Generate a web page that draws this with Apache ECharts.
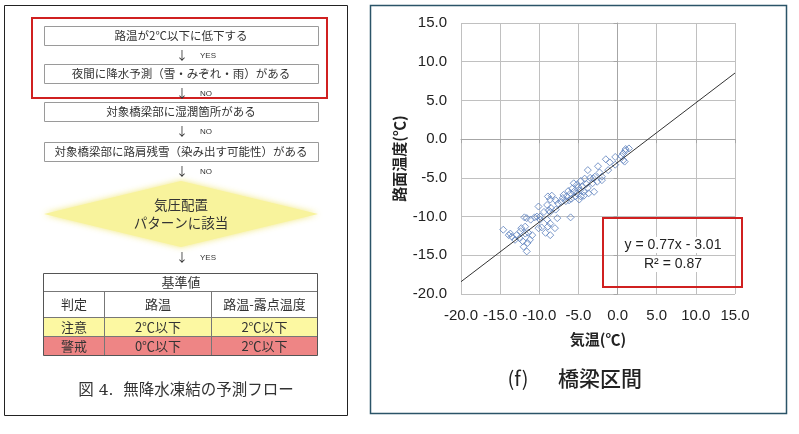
<!DOCTYPE html>
<html>
<head>
<meta charset="utf-8">
<script src="https://cdn.jsdelivr.net/npm/echarts@6/dist/echarts.min.js"></script>
<style>
  html, body { margin: 0; padding: 0; background: #fff; }
  #main { width: 799px; height: 434px; }
</style>
</head>
<body>
<div id="main"></div>
<script>
/* === Data (橋梁区間: 気温 vs 路面温度) === */
const airTemp = [
  1.45, 1.0, 0.7, 1.03, 0.9, 0.73, -0.3, -1.5, -1.0, -0.3,
  0.5, -2.5, -3.8, -1.2, -2.3, -2.9, -2.0, -2.0, -2.6, -3.2,
  -3.1, -3.5, -4.2, -4.7, -5.2, -5.6, -4.0, -4.5, -3.8, -5.0,
  -4.8, -4.3, -3.7, -3.0, -5.2, -5.6, -5.8, -6.3, -6.0, -5.4,
  -4.7, -4.3, -4.9, -5.9, -6.5, -6.9, -7.0, -6.2, -6.6, -7.2,
  -7.6, -7.9, -8.6, -8.4, -8.9, -9.0, -8.5, -7.9, -8.6, -7.7,
  -6.0, -10.1, -8.8, -9.4, -9.9, -10.3, -10.6, -9.9, -9.0, -8.6,
  -8.9, -9.7, -9.2, -8.6, -8.0, -10.1, -11.6, -11.1, -11.9, -11.8,
  -12.3, -11.8, -11.4, -10.9, -11.2, -11.5, -12.0, -11.6, -12.1, -12.5,
  -13.1, -13.5, -13.9, -14.6, -13.7, -12.9, -12.4
];
const roadTemp = [
  -1.2, -1.5, -1.85, -1.28, -2.9, -2.7, -2.3, -2.6, -3.0, -3.3,
  -2.2, -3.5, -4.0, -4.0, -4.3, -4.85, -4.85, -5.3, -5.5, -5.7,
  -5.07, -5.0, -5.1, -5.4, -5.9, -5.7, -5.8, -6.1, -6.3, -6.2,
  -6.6, -6.8, -7.0, -6.8, -7.0, -6.8, -6.4, -6.7, -7.0, -7.4,
  -7.4, -7.3, -7.8, -7.7, -7.4, -7.2, -7.6, -7.9, -8.0, -8.1,
  -8.3, -7.9, -7.8, -7.3, -7.4, -8.5, -8.9, -9.1, -9.4, -10.2,
  -10.1, -8.7, -9.2, -9.4, -10.0, -10.0, -10.1, -10.4, -10.4, -10.9,
  -11.3, -11.4, -12.1, -12.4, -11.5, -11.5, -10.2, -10.4, -10.1, -11.3,
  -11.5, -12.2, -12.1, -12.4, -13.0, -13.4, -13.9, -14.5, -13.2, -12.8,
  -13.0, -12.6, -12.4, -11.7, -12.2, -12.4, -11.9
];
const trendSlope = 0.77;
const trendIntercept = -3.01;
const rSquared = 0.87;
const axisMin = -20, axisMax = 15, axisStep = 5;

/* === Flow chart texts (無降水凍結の予測フロー) === */
const flowSteps = [
  '路温が2℃以下に低下する',
  '夜間に降水予測（雪・みぞれ・雨）がある',
  '対象橋梁部に湿潤箇所がある',
  '対象橋梁部に路肩残雪（染み出す可能性）がある'
];
const flowBranches = ['YES', 'NO', 'NO', 'NO'];
const diamondLines = ['気圧配置', 'パターンに該当'];
const tableTitle = '基準値';
const tableHeader = ['判定', '路温', '路温-露点温度'];
const tableRows = [
  ['注意', '2℃以下', '2℃以下'],
  ['警戒', '0℃以下', '2℃以下']
];

const JP = "'Noto Sans CJK JP', 'Noto Sans', sans-serif";
const LAT = "'Liberation Sans', 'Noto Sans CJK JP', sans-serif";

function txt(x, y, text, size, opt) {
  opt = opt || {};
  return {
    type: 'text', x: x, y: y, z: opt.z || 10,
    style: {
      text: text,
      fill: opt.color || '#333',
      font: (opt.weight || 'normal') + ' ' + size + 'px ' + (opt.family || JP),
      textAlign: opt.align || 'center', align: opt.align || 'center',
      textVerticalAlign: 'middle', verticalAlign: 'middle',
      backgroundColor: opt.bg, padding: opt.bg ? [1, 2] : 0
    }
  };
}
function box(x, y, w, h, fill, stroke, lw, z) {
  return {
    type: 'rect', z: z || 5,
    shape: { x: x, y: y, width: w, height: h },
    style: { fill: fill, stroke: stroke, lineWidth: lw || 1 }
  };
}
function seg(x1, y1, x2, y2, color, z) {
  return {
    type: 'line', z: z || 6,
    shape: { x1: x1, y1: y1, x2: x2, y2: y2 },
    style: { stroke: color, lineWidth: 1 }
  };
}

/* === Left panel graphics === */
function buildFlow() {
  const g = [];
  g.push(box(4.5, 5.5, 343, 410, 'none', '#222', 1));
  const boxTops = [26, 64, 102, 142];
  flowSteps.forEach((s, i) => {
    g.push(box(44.5, boxTops[i] + 0.5, 274, 19, '#fff', '#9a9a9a', 1));
    g.push(txt(181, boxTops[i] + 10, s, 11.5));
    const ay = boxTops[i] + 29;
    g.push(txt(182, ay, '↓', 12));
    g.push(txt(200, ay + 1, flowBranches[i], 8, { align: 'left', family: LAT }));
  });
  // red highlight round first two steps
  g.push(box(32, 18, 295, 80, 'none', '#d02020', 2, 8));

  // diamond
  g.push({
    type: 'polygon', z: 5,
    shape: { points: [[44, 214], [181, 181], [318, 214], [181, 247]] },
    style: { fill: '#f8f39c', shadowBlur: 6, shadowColor: 'rgba(240,230,110,0.9)' }
  });
  g.push(txt(181, 205, diamondLines[0], 13.5));
  g.push(txt(181, 223, diamondLines[1], 13.5));
  g.push(txt(182, 257, '↓', 12));
  g.push(txt(200, 258, 'YES', 8, { align: 'left', family: LAT }));

  // table
  const tx = 43.5, tw = 274, cols = [43.5, 104.5, 211.5, 317.5];
  const rowY = [273.5, 291.5, 317.5, 336.5, 355.5];
  g.push(box(tx, rowY[2], tw, rowY[3] - rowY[2], '#fcf8a2', 'none', 0, 4));
  g.push(box(tx, rowY[3], tw, rowY[4] - rowY[3], '#ee8585', 'none', 0, 4));
  g.push(box(tx, rowY[0], tw, rowY[4] - rowY[0], 'none', '#555', 1, 7));
  for (let i = 1; i < 4; i++) g.push(seg(tx, rowY[i], tx + tw, rowY[i], '#777'));
  for (let c = 1; c < 3; c++) g.push(seg(cols[c], rowY[1], cols[c], rowY[4], '#777'));
  g.push(txt(181, (rowY[0] + rowY[1]) / 2, tableTitle, 13));
  const rows = [tableHeader].concat(tableRows);
  rows.forEach((r, ri) => {
    const cy = (rowY[ri + 1] + rowY[ri + 2]) / 2;
    r.forEach((cell, ci) => {
      g.push(txt((cols[ci] + cols[ci + 1]) / 2, cy, cell, 13));
    });
  });

  g.push(txt(186, 391, '図 4.  無降水凍結の予測フロー', 15.5,
    { family: "'DejaVu Serif', 'Noto Sans CJK JP', serif", color: '#333' }));
  return g;
}

/* === Right panel graphics === */
function buildChartDecor() {
  return [
    box(370.5, 5.5, 416, 408, 'none', '#2b5468', 1.5),
    box(603, 218, 139, 69, 'none', '#d02020', 2, 12),
    txt(673, 245, 'y = ' + trendSlope + 'x - ' + Math.abs(trendIntercept).toFixed(2), 14,
      { family: LAT, color: '#222', bg: '#fff' }),
    txt(673, 264, 'R² = ' + rSquared, 14, { family: LAT, color: '#222', bg: '#fff' }),
    txt(518, 378, '(f)', 20, { color: '#222' }),
    txt(600, 378, '橋梁区間', 21, { color: '#222', weight: 500 })
  ];
}

/* === Scatter chart === */
function initChart() {
  const chart = echarts.init(document.getElementById('main'));
  const points = airTemp.map((x, i) => [x, roadTemp[i]]);
  const trend = [axisMin, axisMax].map(x => [x, trendSlope * x + trendIntercept]);
  const axisCommon = {
    type: 'value', min: axisMin, max: axisMax, interval: axisStep,
    axisLine: { show: true, lineStyle: { color: '#a6a6a6' } },
    axisTick: { show: true, inside: false, length: 4, lineStyle: { color: '#a6a6a6' } },
    splitLine: { show: true, lineStyle: { color: '#c0c0c0', width: 1 } },
    axisLabel: {
      color: '#222', fontSize: 15, fontFamily: LAT, margin: 14,
      formatter: v => v.toFixed(1)
    },
    nameLocation: 'middle',
    nameTextStyle: { color: '#222', fontSize: 15, fontWeight: 'bold', fontFamily: JP }
  };
  chart.setOption({
    backgroundColor: '#fff',
    animation: false,
    grid: { left: 461, right: 64, top: 23, bottom: 140 },
    xAxis: Object.assign({}, axisCommon, { name: '気温(℃)', nameGap: 38 }),
    yAxis: Object.assign({}, axisCommon, { name: '路面温度(℃)', nameGap: 54, nameRotate: 90 }),
    series: [
      {
        type: 'scatter',
        data: points,
        symbol: 'diamond',
        symbolSize: 7,
        itemStyle: { color: 'rgba(255,255,255,0)', borderColor: '#5b7fbd', borderWidth: 1 },
        z: 3
      },
      {
        type: 'line',
        data: trend,
        symbol: 'none',
        lineStyle: { color: '#333', width: 1 },
        z: 4
      }
    ],
    graphic: { elements: buildFlow().concat(buildChartDecor()) }
  });
  window.addEventListener('resize', () => chart.resize());
}

if (document.readyState === 'loading') {
  document.addEventListener('DOMContentLoaded', initChart);
} else {
  initChart();
}
</script>
</body>
</html>
